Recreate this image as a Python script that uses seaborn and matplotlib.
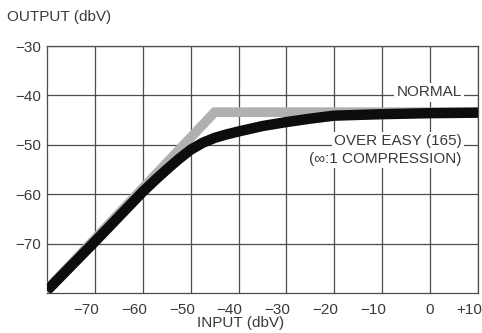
import matplotlib
matplotlib.use("Agg")
import matplotlib.pyplot as plt
from matplotlib.transforms import ScaledTranslation
import seaborn as sns
import pandas as pd

# ---- data ----
normal_in = [-80, -45, 10]
normal_out = [-79.3, -43.4, -43.4]

overeasy_in = [-80, -70, -60, -57.5, -55, -52.5, -50, -47.5, -45, -42.5, -40, -35, -30, -25, -20, -10, 0, 10]
overeasy_out = [-79.5, -69.6, -59.5, -57.2, -55.0, -52.9, -51.0, -49.6, -48.6, -47.9, -47.3, -46.2, -45.4, -44.7, -44.1, -43.8, -43.6, -43.5]

x_ticks = [-70, -60, -50, -40, -30, -20, -10, 0, 10]
x_ticklabels = ["\u221270", "\u221260", "\u221250", "\u221240", "\u221230", "\u221220", "\u221210", "0", "+10"]
y_ticks = [-70, -60, -50, -40, -30]
y_ticklabels = ["\u221270", "\u221260", "\u221250", "\u221240", "\u221230"]

# ---- style ----
sns.set_style("white")
plt.rcParams['font.family'] = ['Liberation Sans', 'DejaVu Sans']
TXT = '#3a3a3a'
GRID = '#4d4d45'

fig = plt.figure(figsize=(4.82, 3.33), dpi=100)
ax = fig.add_axes([47/482, 1-293/333, 431/482, 247/333])

df_n = pd.DataFrame({'inp': normal_in, 'out': normal_out})
df_o = pd.DataFrame({'inp': overeasy_in, 'out': overeasy_out})

sns.lineplot(data=df_n, x='inp', y='out', ax=ax, color='#b0b0b0', lw=7.0,
             sort=False, estimator=None, solid_joinstyle='miter', zorder=3)
sns.lineplot(data=df_o, x='inp', y='out', ax=ax, color='#0d0d0d', lw=7.5,
             sort=False, estimator=None, solid_capstyle='butt',
             solid_joinstyle='round', zorder=4)

ax.set_xlim(-80, 10)
ax.set_ylim(-80, -30)
ax.set_xticks(x_ticks)
ax.set_xticklabels(x_ticklabels)
ax.set_yticks(y_ticks)
ax.set_yticklabels(y_ticklabels)
ax.grid(True, color=GRID, lw=0.9)
ax.set_axisbelow(True)
for s in ax.spines.values():
    s.set_color(GRID)
    s.set_linewidth(0.9)
    s.set_visible(True)
ax.tick_params(axis='both', length=0, labelsize=11, labelcolor=TXT)
ax.tick_params(axis='x', pad=7)
ax.tick_params(axis='y', pad=4)
for lab in ax.get_xticklabels():
    lab.set_ha('right')
    lab.set_transform(lab.get_transform() + ScaledTranslation(0.04, 0, fig.dpi_scale_trans))
ax.set_xlabel('')
ax.set_ylabel('')

ax.text(0.45, -0.12, 'INPUT (dbV)', transform=ax.transAxes, ha='center', va='center',
        fontsize=11, color=TXT)
fig.text(7/482, 1-17.5/333, 'OUTPUT (dbV)', ha='left', va='center', fontsize=11, color=TXT)

box = dict(facecolor='white', edgecolor='none', pad=1.5)
ax.text(6.6, -39.4, 'NORMAL', ha='right', va='center', fontsize=11, color=TXT,
        bbox=box, zorder=5)
ax.text(6.6, -49.3, 'OVER EASY (165)', ha='right', va='center', fontsize=11, color=TXT,
        bbox=box, zorder=5)
ax.text(6.6, -52.9, '(\u221e:1 COMPRESSION)', ha='right', va='center', fontsize=11, color=TXT,
        bbox=box, zorder=5)

fig.savefig('out.png', dpi=100)
